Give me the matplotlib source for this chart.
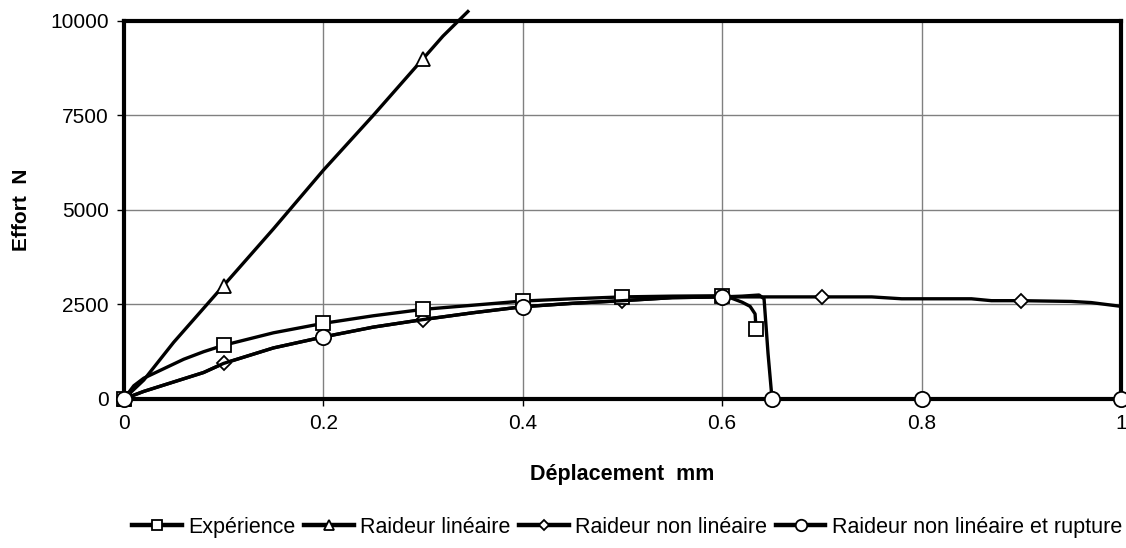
import numpy as np
import matplotlib.pyplot as plt

plt.rcParams['font.family'] = ['Liberation Sans', 'DejaVu Sans']

# Expérience
exp_x = [0, 0.01, 0.02, 0.04, 0.06, 0.08, 0.1, 0.15, 0.2, 0.25, 0.3, 0.35,
         0.4, 0.45, 0.5, 0.55, 0.6, 0.61, 0.62, 0.628, 0.633, 0.634]
exp_y = [0, 350, 550, 800, 1050, 1250, 1420, 1750, 2000, 2200, 2370, 2480,
         2590, 2650, 2700, 2720, 2730, 2660, 2560, 2450, 2250, 1850]
exp_marks = [0, 6, 8, 10, 12, 14, 16, 21]

# Raideur linéaire
lin_x = [0, 0.02, 0.05, 0.1, 0.15, 0.2, 0.25, 0.3, 0.32, 0.345]
lin_y = [0, 500, 1500, 3000, 4500, 6050, 7500, 9000, 9600, 10250]
lin_marks = [0, 3, 7]

# Raideur non linéaire
nl_x = [0, 0.02, 0.05, 0.08, 0.1, 0.15, 0.2, 0.25, 0.3, 0.35, 0.4, 0.45,
        0.5, 0.55, 0.6, 0.7, 0.75, 0.78, 0.85, 0.87, 0.9, 0.95, 0.97, 1.0]
nl_y = [0, 200, 450, 700, 940, 1350, 1640, 1900, 2100, 2280, 2440, 2530,
        2600, 2680, 2700, 2700, 2700, 2650, 2650, 2600, 2600, 2580, 2550, 2450]
nl_marks = [4, 8, 12, 15, 20]

# Raideur non linéaire et rupture
rup_x = [0, 0.02, 0.05, 0.08, 0.1, 0.15, 0.2, 0.25, 0.3, 0.35, 0.4, 0.45,
         0.5, 0.55, 0.6, 0.62, 0.637, 0.642, 0.646, 0.65, 0.8, 1.0]
rup_y = [0, 200, 450, 700, 940, 1350, 1640, 1900, 2100, 2280, 2440, 2530,
         2600, 2680, 2700, 2720, 2750, 2650, 1200, 0, 0, 0]
rup_marks = [0, 6, 10, 14, 19, 20, 21]

fig, ax = plt.subplots(figsize=(11.26, 5.48), dpi=100)
fig.subplots_adjust(left=0.110, right=0.9956, top=0.9617, bottom=0.272)

lw = 2.4
ax.plot(lin_x, lin_y, color='black', lw=lw, marker='^', markersize=10,
        markerfacecolor='white', markeredgecolor='black', markeredgewidth=1.3,
        markevery=lin_marks, clip_on=False, zorder=3, label='Raideur linéaire')
ax.plot(nl_x, nl_y, color='black', lw=lw, marker='D', markersize=7,
        markerfacecolor='white', markeredgecolor='black', markeredgewidth=1.3,
        markevery=nl_marks, clip_on=False, zorder=4, label='Raideur non linéaire')
ax.plot(exp_x, exp_y, color='black', lw=lw, marker='s', markersize=10,
        markerfacecolor='white', markeredgecolor='black', markeredgewidth=1.3,
        markevery=exp_marks, clip_on=False, zorder=5, label='Expérience')
ax.plot(rup_x, rup_y, color='black', lw=lw, marker='o', markersize=11,
        markerfacecolor='white', markeredgecolor='black', markeredgewidth=1.3,
        markevery=rup_marks, clip_on=False, zorder=6,
        label='Raideur non linéaire et rupture')

ax.set_xlim(0, 1)
ax.set_ylim(0, 10000)
ax.set_xticks([0, 0.2, 0.4, 0.6, 0.8, 1])
ax.set_xticklabels(['0', '0.2', '0.4', '0.6', '0.8', '1'])
ax.set_yticks([0, 2500, 5000, 7500, 10000])
ax.grid(True, color='#808080', lw=1)
ax.set_axisbelow(True)
for s in ax.spines.values():
    s.set_linewidth(3)
ax.tick_params(direction='out', length=5, width=1, labelsize=15, pad=6)

ax.set_xlabel('Déplacement  mm', fontsize=15.5, fontweight='bold',
              labelpad=22)
ax.set_ylabel('Effort  N', fontsize=15, fontweight='bold', labelpad=14)

handles, labels = ax.get_legend_handles_labels()
order = [2, 0, 1, 3]
leg = fig.legend([handles[i] for i in order], [labels[i] for i in order],
                 loc='center', bbox_to_anchor=(0.557, 0.038), ncol=4,
                 frameon=False, fontsize=15.5, handlelength=2.3,
                 handletextpad=0.3, columnspacing=0.4, markerscale=0.75)
for h in leg.legend_handles:
    h.set_linewidth(3.2)

fig.savefig('out.png', dpi=100)
